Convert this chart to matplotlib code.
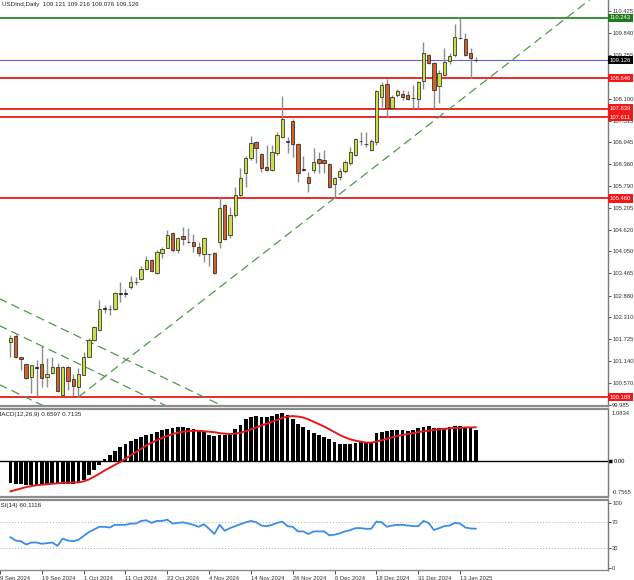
import numpy as np
import matplotlib.pyplot as plt

plt.rcParams['font.family'] = ['Liberation Sans', 'DejaVu Sans']

# --- daily OHLC, bar index 0 .. 89 ---
opens = [101.647, 101.807, 101.240, 101.064, 100.719, 100.958, 101.064, 100.719, 100.825, 100.984,
         100.242, 100.984, 100.666, 100.454, 100.772, 101.249, 101.700, 101.966, 102.549, 102.520,
         102.523, 102.940, 102.930, 103.106, 103.230, 103.318, 103.584, 103.823, 103.478, 104.008,
         104.141, 104.539, 104.088, 104.459, 104.310, 104.300, 104.168, 103.982, 103.990, 104.008,
         104.300, 105.282, 104.486, 105.017, 105.547, 106.131, 106.529, 106.953, 106.635, 106.290,
         106.210, 106.661, 107.086, 106.980, 107.510, 106.900, 106.220, 106.025, 106.210, 106.502,
         106.476, 106.370, 105.839, 106.025, 106.184, 106.396, 106.608, 106.990, 106.910, 106.741,
         106.953, 108.147, 108.492, 107.855, 108.200, 108.227, 108.200, 108.110, 108.094, 108.571,
         109.261, 109.049, 108.439, 108.731, 109.102, 109.261, 109.720, 109.686, 109.314, 109.121]
highs = [101.833, 101.860, 101.250, 101.080, 101.050, 101.170, 101.541, 101.223, 101.249, 101.090,
         101.010, 101.000, 100.798, 100.958, 101.382, 101.754, 102.060, 102.761, 102.629, 102.630,
         102.970, 103.239, 103.050, 103.398, 103.370, 103.663, 103.929, 103.850, 104.088, 104.168,
         104.618, 104.560, 104.433, 104.698, 104.671, 104.512, 104.300, 104.433, 103.995, 104.035,
         105.494, 105.310, 105.229, 105.759, 106.264, 106.582, 107.112, 106.980, 106.661, 106.873,
         106.873, 107.218, 108.174, 107.086, 107.563, 106.927, 106.582, 106.157, 106.794, 106.688,
         106.741, 106.400, 106.025, 106.264, 106.476, 106.820, 107.060, 107.218, 107.218, 107.033,
         108.333, 108.545, 108.624, 108.200, 108.359, 108.333, 108.306, 108.465, 108.571, 109.606,
         109.288, 109.076, 108.863, 109.447, 109.314, 110.084, 110.243, 109.845, 109.447, 109.216]
lows = [101.249, 101.220, 100.904, 100.670, 100.295, 100.215, 100.454, 100.454, 100.800, 100.330,
        100.215, 100.374, 100.215, 100.188, 100.760, 101.240, 101.680, 101.950, 102.417, 102.360,
        102.500, 102.708, 102.840, 103.053, 103.150, 103.300, 103.560, 103.500, 103.460, 103.876,
        104.130, 104.035, 104.008, 104.221, 104.274, 104.035, 103.929, 103.770, 103.663, 103.451,
        104.141, 104.350, 104.406, 104.964, 105.494, 105.759, 106.476, 106.396, 106.157, 106.184,
        106.184, 106.608, 107.070, 106.661, 106.555, 105.892, 106.184, 105.627, 106.131, 106.131,
        106.131, 105.730, 105.468, 105.945, 106.131, 106.343, 106.590, 106.873, 106.820, 106.714,
        106.873, 107.882, 107.616, 107.829, 108.147, 108.067, 108.067, 107.855, 107.855, 108.359,
        109.023, 107.855, 107.988, 108.704, 109.023, 109.208, 109.686, 109.235, 108.651, 109.076]
closes = [101.754, 101.249, 101.200, 100.692, 101.037, 100.984, 100.692, 100.798, 100.984, 100.348,
          100.984, 100.613, 100.480, 100.798, 101.249, 101.700, 102.045, 102.523, 102.523, 102.530,
          102.947, 102.930, 102.960, 103.239, 103.250, 103.584, 103.823, 103.531, 104.035, 104.115,
          104.486, 104.088, 104.406, 104.380, 104.290, 104.194, 104.008, 104.406, 103.970, 103.478,
          105.202, 104.380, 105.017, 105.547, 105.998, 106.529, 106.927, 106.794, 106.264, 106.210,
          106.688, 107.139, 107.563, 106.950, 106.900, 106.131, 106.240, 105.865, 106.423, 106.396,
          106.396, 105.759, 105.998, 106.184, 106.423, 106.688, 107.033, 106.970, 106.890, 106.980,
          108.306, 108.465, 107.855, 108.147, 108.306, 108.147, 108.094, 108.130, 108.545, 109.314,
          109.049, 108.333, 108.784, 109.076, 109.235, 109.739, 109.700, 109.261, 109.182, 109.126]

# --- MACD(12,26,9): histogram (main) and signal ---
macd_main = [-0.47, -0.48, -0.49, -0.50, -0.50, -0.50, -0.49, -0.49, -0.48, -0.49,
             -0.48, -0.48, -0.48, -0.46, -0.40, -0.30, -0.19, -0.08, 0.04, 0.13,
             0.22, 0.29, 0.36, 0.43, 0.47, 0.51, 0.55, 0.57, 0.61, 0.65,
             0.68, 0.70, 0.71, 0.71, 0.70, 0.68, 0.64, 0.61, 0.56, 0.52,
             0.55, 0.54, 0.58, 0.68, 0.76, 0.88, 0.94, 0.95, 0.93, 0.93,
             0.96, 0.99, 1.02, 0.97, 0.89, 0.79, 0.72, 0.65, 0.60, 0.56,
             0.51, 0.46, 0.40, 0.37, 0.37, 0.37, 0.39, 0.40, 0.40, 0.40,
             0.59, 0.61, 0.63, 0.65, 0.66, 0.66, 0.64, 0.66, 0.69, 0.72,
             0.74, 0.69, 0.70, 0.70, 0.71, 0.74, 0.75, 0.72, 0.71, 0.6597]
macd_signal = [-0.64, -0.61, -0.58, -0.55, -0.53, -0.51, -0.50, -0.49, -0.48, -0.47,
               -0.46, -0.46, -0.45, -0.45, -0.43, -0.39, -0.33, -0.27, -0.20, -0.14,
               -0.08, -0.02, 0.05, 0.12, 0.19, 0.26, 0.33, 0.39, 0.44, 0.49,
               0.53, 0.57, 0.60, 0.62, 0.63, 0.64, 0.64, 0.63, 0.62, 0.61,
               0.59, 0.58, 0.57, 0.58, 0.60, 0.63, 0.67, 0.71, 0.75, 0.79,
               0.83, 0.87, 0.91, 0.94, 0.95, 0.94, 0.92, 0.88, 0.83, 0.78,
               0.73, 0.67, 0.61, 0.55, 0.50, 0.46, 0.43, 0.41, 0.39, 0.39,
               0.41, 0.44, 0.47, 0.50, 0.53, 0.55, 0.57, 0.59, 0.61, 0.63,
               0.64, 0.66, 0.67, 0.68, 0.69, 0.70, 0.70, 0.71, 0.71, 0.7135]

# --- RSI(14) ---
rsi = [47, 42, 41, 36, 39, 39, 37, 38, 39, 34,
       45, 42, 41, 43, 49, 55, 59, 63, 63, 62,
       66, 66, 66, 68, 68, 72, 73, 69, 72, 72,
       74, 68, 69, 70, 68, 66, 63, 67, 60, 52,
       66, 57, 61, 64, 67, 70, 72, 70, 65, 64,
       66, 69, 71, 64, 63, 56, 56, 52, 56, 56,
       56, 50, 51, 53, 56, 58, 61, 61, 60, 60,
       71, 70, 63, 65, 66, 66, 65, 64, 64, 72,
       69, 58, 61, 64, 65, 69, 68, 62, 60.5, 60.1116]

# --- horizontal levels (price, line colour, tag colour) ---
level_prices = [110.243, 109.126, 108.646, 107.839, 107.611, 105.460, 100.188]
level_colors = ['#2a8a2a', '#6464d2', '#e8191b', '#e8191b', '#e8191b', '#e8191b', '#e8191b']
tag_colors = ['#1f7a1f', '#000000', '#f01818', '#f01818', '#f01818', '#f01818', '#f01818']

price_ticks = [110.425, 109.840, 109.255, 108.670, 108.100, 107.515, 106.945, 106.360, 105.790,
               105.205, 104.620, 104.050, 103.465, 102.880, 102.310, 101.725, 101.140, 100.570, 99.985]

date_bars = [-2, 6, 14, 22, 30, 38, 46, 54, 62, 70, 78, 86]
date_labels = ['9 Sep 2024', '19 Sep 2024', '1 Oct 2024', '11 Oct 2024', '23 Oct 2024', '4 Nov 2024',
               '14 Nov 2024', '26 Nov 2024', '6 Dec 2024', '18 Dec 2024', '31 Dec 2024', '13 Jan 2025']

# trend lines: rising support through two lows, falling channel through one high
rise_from = (13, 100.188)
rise_through = (62, 105.468)
fall_anchor = (6, 101.541)
fall_slope = -0.0667
fall_offsets = [0.716, 0.0, -1.565]

FS = 4.2
W, H = 634, 580
fig = plt.figure(figsize=(W / 100, H / 100), dpi=100)


def panel(top, bottom):
    return [0, 1 - bottom / H, 608 / W, (bottom - top) / H]


ax = fig.add_axes(panel(0, 406))
ax_m = fig.add_axes(panel(409, 497), sharex=ax)
ax_r = fig.add_axes(panel(500, 570), sharex=ax)

x = np.arange(len(closes))
o, h, l, c = map(np.array, (opens, highs, lows, closes))

# candles
ax.vlines(x, l, h, color='#8c8c8c', lw=1.0, zorder=2)
body_lo = np.minimum(o, c)
body_h = np.maximum(np.abs(c - o), 0.006)
cols = np.where(c >= o, '#cfdc4a', '#d0612a')
cols = np.where(np.abs(c - o) < 0.03, '#000000', cols)
ax.bar(x, body_h, bottom=body_lo, width=0.64, color=cols, edgecolor='#1a1a1a',
       linewidth=0.5, zorder=3)

# levels and their price tags
for p, lc, tc in zip(level_prices, level_colors, tag_colors):
    ax.axhline(p, color=lc, lw=1.3 if lc != '#6464d2' else 0.8, zorder=1)
    ax.text(1.003, p, f'{p:.3f}', transform=ax.get_yaxis_transform(), ha='left', va='center',
            fontsize=FS, color='white', zorder=5, clip_on=False,
            bbox=dict(boxstyle='square,pad=0.3', facecolor=tc, edgecolor='none'))

# trend lines
dash = (0, (7, 4))
slope = (rise_through[1] - rise_from[1]) / (rise_through[0] - rise_from[0])
xr = np.array([rise_from[0], 120])
ax.plot(xr, rise_from[1] + slope * (xr - rise_from[0]), color='#4f9a4f', lw=0.9, ls=dash, zorder=1)
xf = np.array([-10, 60])
for off in fall_offsets:
    ax.plot(xf, fall_anchor[1] + off + fall_slope * (xf - fall_anchor[0]),
            color='#4f9a4f', lw=0.9, ls=dash, zorder=1)

ax.set_xlim(-0.62, 114.3)
ax.set_ylim(99.95, 110.72)
ax.yaxis.tick_right()
ax.set_yticks(price_ticks)
ax.set_yticklabels([f'{t:.3f}' for t in price_ticks])
ax.text(0.004, 0.995, 'USDInd,Daily  109.121 109.216 109.076 109.126', transform=ax.transAxes,
        ha='left', va='top', fontsize=FS + 0.3, color='#222222')

# MACD
ax_m.bar(x, macd_main, width=0.72, color='#000000', zorder=2)
ax_m.plot(x, macd_signal, color='#e8191b', lw=1.4, zorder=3)
ax_m.axhline(0, color='#000000', lw=1.0, zorder=1)
ax_m.set_ylim(-0.76, 1.10)
ax_m.yaxis.tick_right()
ax_m.set_yticks([0])
ax_m.set_yticklabels(['0.00'])
ax_m.text(1.006, 0.975, '1.0834', transform=ax_m.transAxes, ha='left', va='top', fontsize=FS,
          color='#333333')
ax_m.text(1.006, 0.02, '-0.7565', transform=ax_m.transAxes, ha='left', va='bottom', fontsize=FS,
          color='#333333')
ax_m.text(-4.5 / 608, 0.97, 'MACD(12,26,9) 0.6597 0.7135', transform=ax_m.transAxes,
          ha='left', va='top', fontsize=FS + 0.3, color='#222222')

# RSI
ax_r.plot(x, rsi, color='#3a8ee6', lw=1.3, zorder=3)
for lv in (70, 30):
    ax_r.axhline(lv, color='#b4b4b4', lw=0.7, ls=(0, (1, 2)), zorder=1)
ax_r.set_ylim(-3, 104)
ax_r.yaxis.tick_right()
ax_r.set_yticks([100, 70, 30, 0])
ax_r.set_yticklabels(['100', '70', '30', '0'])
ax_r.text(-3.5 / 608, 0.96, 'RSI(14) 60.1116', transform=ax_r.transAxes,
          ha='left', va='top', fontsize=FS + 0.3, color='#222222')
ax_r.set_xticks(date_bars)
ax_r.set_xticklabels(date_labels, ha='left')

for a in (ax, ax_m, ax_r):
    a.set_facecolor('white')
    a.spines['left'].set_visible(False)
    a.spines['right'].set_color('#7a7a7a')
    a.spines['right'].set_linewidth(1.0)
    a.spines['top'].set_color('#8c8c8c')
    a.spines['bottom'].set_color('#8c8c8c')
    a.spines['top'].set_linewidth(1.6)
    a.spines['bottom'].set_linewidth(1.6)
    a.tick_params(axis='y', right=True, left=False, length=2, width=0.6, pad=1.0,
                  labelsize=FS, colors='#333333')
ax.spines['top'].set_visible(False)
ax_r.spines['bottom'].set_linewidth(1.0)
ax_m.tick_params(axis='y', length=3, width=2.5, colors='#000000')
for a in (ax, ax_m):
    a.tick_params(axis='x', bottom=False, labelbottom=False)
ax_r.tick_params(axis='x', length=3, width=0.6, pad=1.0, labelsize=FS, colors='#333333')

fig.savefig('out.png', dpi=100)
